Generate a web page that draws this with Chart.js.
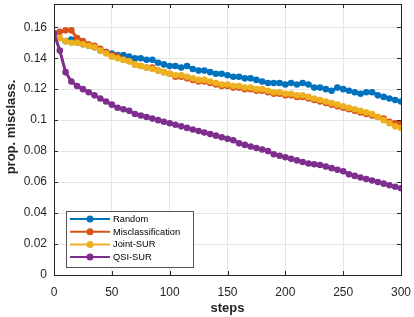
<!DOCTYPE html>
<html>
<head>
<meta charset="utf-8">
<script src="https://cdn.jsdelivr.net/npm/chart.js@4.4.1/dist/chart.umd.min.js"></script>
<style>
  html, body { margin: 0; padding: 0; background: #fff; }
  #wrap { width: 414px; height: 317px; }
</style>
</head>
<body>
<div id="wrap"><canvas id="misclassChart"></canvas></div>
<script>
// steps sampled every 5
const steps = [0, 5, 10, 15, 20, 25, 30, 35, 40, 45, 50, 55, 60, 65, 70, 75, 80, 85, 90, 95,
    100, 105, 110, 115, 120, 125, 130, 135, 140, 145, 150, 155, 160, 165, 170, 175, 180, 185, 190, 195,
    200, 205, 210, 215, 220, 225, 230, 235, 240, 245, 250, 255, 260, 265, 270, 275, 280, 285, 290, 295, 300];

const randomVals = [0.156, 0.153, 0.151, 0.152, 0.150, 0.149, 0.148, 0.147, 0.145, 0.144,
    0.143, 0.142, 0.142, 0.141, 0.140, 0.140, 0.139, 0.139, 0.137, 0.136,
    0.135, 0.135, 0.134, 0.135, 0.133, 0.132, 0.132, 0.131, 0.130, 0.130,
    0.129, 0.128, 0.128, 0.127, 0.127, 0.126, 0.125, 0.124, 0.124, 0.124,
    0.123, 0.124, 0.123, 0.124, 0.123, 0.121, 0.121, 0.120, 0.119, 0.121,
    0.120, 0.119, 0.118, 0.117, 0.118, 0.118, 0.116, 0.115, 0.114, 0.113, 0.112];

const misclassVals = [0.156, 0.157, 0.158, 0.158, 0.153, 0.151, 0.149, 0.148, 0.146, 0.144,
    0.142, 0.141, 0.139, 0.138, 0.136, 0.135, 0.134, 0.134, 0.132, 0.131,
    0.130, 0.128, 0.128, 0.127, 0.126, 0.125, 0.125, 0.124, 0.123, 0.122,
    0.122, 0.121, 0.121, 0.120, 0.120, 0.119, 0.119, 0.118, 0.117, 0.117,
    0.116, 0.116, 0.115, 0.115, 0.114, 0.113, 0.112, 0.111, 0.110, 0.109,
    0.108, 0.107, 0.106, 0.105, 0.104, 0.103, 0.102, 0.101, 0.099, 0.098, 0.098];

const jointVals = [0.156, 0.153, 0.151, 0.150, 0.150, 0.149, 0.148, 0.147, 0.145, 0.143,
    0.141, 0.140, 0.139, 0.138, 0.136, 0.135, 0.134, 0.133, 0.132, 0.131,
    0.130, 0.129, 0.129, 0.128, 0.127, 0.126, 0.126, 0.125, 0.124, 0.123,
    0.123, 0.122, 0.122, 0.121, 0.121, 0.120, 0.120, 0.119, 0.118, 0.118,
    0.117, 0.117, 0.116, 0.116, 0.115, 0.114, 0.113, 0.112, 0.111, 0.110,
    0.109, 0.108, 0.107, 0.106, 0.105, 0.104, 0.102, 0.100, 0.098, 0.096, 0.095];

const qsiVals = [0.156, 0.145, 0.131, 0.125, 0.122, 0.120, 0.118, 0.116, 0.114, 0.112,
    0.110, 0.108, 0.107, 0.106, 0.104, 0.103, 0.102, 0.101, 0.100, 0.099,
    0.098, 0.097, 0.096, 0.095, 0.094, 0.093, 0.092, 0.091, 0.090, 0.089,
    0.088, 0.087, 0.085, 0.084, 0.083, 0.082, 0.081, 0.080, 0.078, 0.077,
    0.076, 0.075, 0.074, 0.073, 0.072, 0.0715, 0.071, 0.070, 0.069, 0.068,
    0.067, 0.065, 0.064, 0.063, 0.062, 0.061, 0.060, 0.059, 0.058, 0.057, 0.056];

const seriesNames = ['Random', 'Misclassification', 'Joint-SUR', 'QSI-SUR'];
const seriesColors = ['#0072BD', '#D95319', '#EDB120', '#7E2F8E'];
const xTicks = [0, 50, 100, 150, 200, 250, 300];
const yTicks = [0, 0.02, 0.04, 0.06, 0.08, 0.1, 0.12, 0.14, 0.16];

const FONT = '"Liberation Sans", Arial, Helvetica, sans-serif';
const AXIS = '#262626';

function toPoints(vals) {
    return vals.map((v, i) => ({ x: steps[i], y: v }));
}

const allVals = [randomVals, misclassVals, jointVals, qsiVals];
const datasets = allVals.map((vals, i) => ({
    label: seriesNames[i],
    data: toPoints(vals),
    borderColor: seriesColors[i],
    backgroundColor: seriesColors[i],
    borderWidth: 3,
    pointRadius: 3.3,
    pointStyle: 'circle',
    pointBorderWidth: 0,
    order: 3 - i,
    tension: 0
}));

// MATLAB style box + inward ticks + y label
const boxPlugin = {
    id: 'box',
    afterDraw(chart) {
        const { ctx, chartArea: a, scales } = chart;
        ctx.save();
        ctx.strokeStyle = AXIS;
        ctx.lineWidth = 1;
        ctx.strokeRect(a.left + 0.5, a.top + 0.5, a.right - a.left, a.bottom - a.top);
        ctx.beginPath();
        xTicks.forEach(t => {
            const px = Math.round(scales.x.getPixelForValue(t)) + 0.5;
            ctx.moveTo(px, a.bottom); ctx.lineTo(px, a.bottom - 4);
            ctx.moveTo(px, a.top); ctx.lineTo(px, a.top + 4);
        });
        yTicks.forEach(t => {
            const py = Math.round(scales.y.getPixelForValue(t)) + 0.5;
            ctx.moveTo(a.left, py); ctx.lineTo(a.left + 4, py);
            ctx.moveTo(a.right, py); ctx.lineTo(a.right - 4, py);
        });
        ctx.stroke();

        // y axis title
        ctx.translate(11, 127);
        ctx.rotate(-Math.PI / 2);
        ctx.font = 'bold 13px ' + FONT;
        ctx.fillStyle = AXIS;
        ctx.textAlign = 'center';
        ctx.textBaseline = 'middle';
        ctx.fillText('prop. misclass.', 0, 0);
        ctx.restore();
    }
};

// legend drawn in lower left of the axes
const legendPlugin = {
    id: 'insideLegend',
    afterDraw(chart) {
        const ctx = chart.ctx;
        const bx = 66, by = 211, bw = 127, bh = 56;
        ctx.save();
        ctx.fillStyle = '#fff';
        ctx.fillRect(bx, by, bw, bh);
        ctx.strokeStyle = '#555';
        ctx.lineWidth = 1;
        ctx.strokeRect(bx + 0.5, by + 0.5, bw, bh);
        ctx.font = '9.3px ' + FONT;
        ctx.textBaseline = 'middle';
        chart.data.datasets.forEach((ds, i) => {
            const y = 219 + i * 12.7;
            ctx.strokeStyle = ds.borderColor;
            ctx.lineWidth = 2;
            ctx.beginPath();
            ctx.moveTo(70, y); ctx.lineTo(110, y);
            ctx.stroke();
            ctx.fillStyle = ds.borderColor;
            ctx.beginPath();
            ctx.arc(90, y, 3.5, 0, Math.PI * 2);
            ctx.fill();
            ctx.fillStyle = '#000';
            ctx.fillText(ds.label, 113, y + 0.5);
        });
        ctx.restore();
    }
};

const ctxEl = document.getElementById('misclassChart');
const misclassChart = new Chart(ctxEl, {
    type: 'line',
    data: { datasets: datasets },
    plugins: [boxPlugin, legendPlugin],
    options: {
        responsive: true,
        maintainAspectRatio: false,
        animation: false,
        layout: { padding: { left: 0, right: 13, top: 1, bottom: 0 } },
        plugins: {
            legend: { display: false },
            tooltip: { enabled: false }
        },
        scales: {
            x: {
                type: 'linear',
                min: 0,
                max: 300,
                afterBuildTicks: s => { s.ticks = xTicks.map(v => ({ value: v })); },
                afterFit: s => { s.height = 42; s.paddingLeft = 0; s.paddingRight = 0; },
                grid: { color: '#e5e5e5', drawTicks: false },
                border: { color: AXIS },
                ticks: { color: AXIS, padding: 10, maxRotation: 0, font: { family: FONT, size: 12 } },
                title: {
                    display: true,
                    text: 'steps',
                    color: AXIS,
                    padding: { top: 0, bottom: 1 },
                    font: { family: FONT, size: 13, weight: 'bold' }
                }
            },
            y: {
                min: 0,
                max: 0.175,
                afterBuildTicks: s => { s.ticks = yTicks.map(v => ({ value: v })); },
                afterFit: s => { s.width = 54; s.paddingTop = 0; s.paddingBottom = 0; },
                grid: { color: '#e5e5e5', drawTicks: false },
                border: { color: AXIS },
                ticks: {
                    color: AXIS,
                    padding: 7,
                    font: { family: FONT, size: 12 },
                    callback: v => String(Math.round(v * 100) / 100)
                },
                title: { display: false }
            }
        }
    }
});
</script>
</body>
</html>
